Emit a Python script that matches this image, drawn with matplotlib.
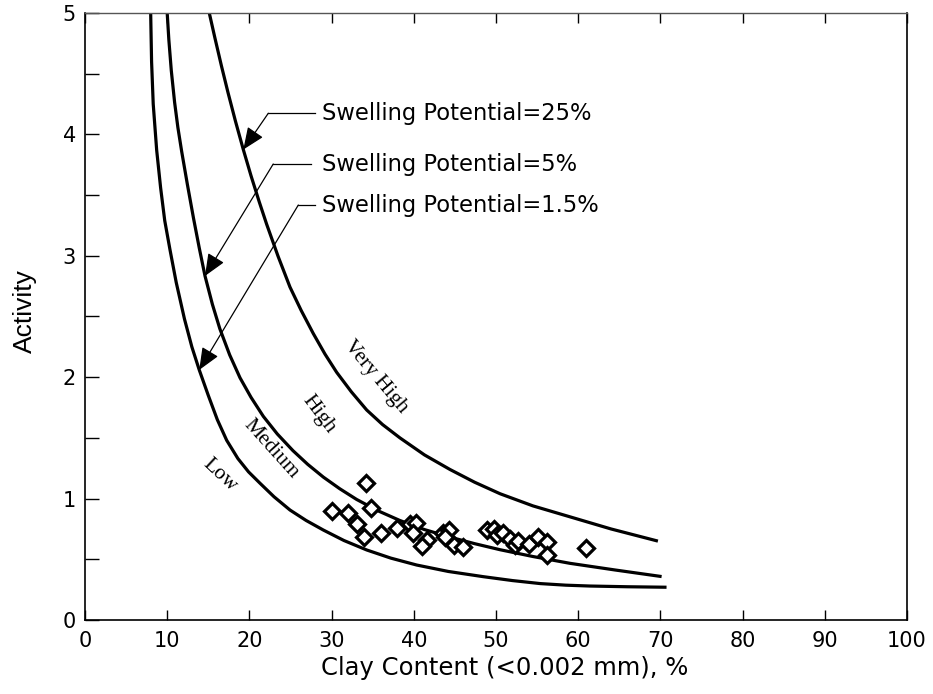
import matplotlib
matplotlib.use("Agg")
import matplotlib.pyplot as plt

# Swelling-potential boundary curves (clay content %, activity)
very_high_x = [15.12, 15.8, 16.6, 17.4, 18.3, 19.26, 20.2, 21.2, 22.1, 23.5, 24.94, 26.3, 27.77,
               29.2, 30.62, 32.4, 34.27, 36.2, 38.32, 41.3, 44.4, 47.4, 50.5, 54.5, 59.0, 64.0, 69.7]
very_high_y = [5.0, 4.796, 4.564, 4.344, 4.11, 3.875, 3.659, 3.444, 3.26, 2.994, 2.742, 2.55, 2.36,
               2.19, 2.04, 1.88, 1.73, 1.61, 1.50, 1.36, 1.24, 1.135, 1.04, 0.94, 0.85, 0.75, 0.65]

medium_x = [10.0, 10.2, 10.5, 10.9, 11.3, 11.76, 12.45, 13.2, 13.9, 14.6, 15.5, 16.4, 17.6, 18.86,
            20.2, 21.7, 23.4, 25.3, 27.1, 29.0, 31.0, 33.05, 35.6, 38.3, 41.3, 44.4, 47.4, 50.5,
            54.5, 59.0, 64.5, 70.15]
medium_y = [5.0, 4.78, 4.525, 4.265, 4.057, 3.86, 3.59, 3.31, 3.065, 2.834, 2.60, 2.40, 2.184, 1.995,
            1.834, 1.677, 1.532, 1.395, 1.282, 1.177, 1.081, 0.993, 0.901, 0.82, 0.745, 0.683, 0.629,
            0.579, 0.523, 0.467, 0.412, 0.358]

low_x = [7.99, 8.1, 8.3, 8.72, 9.2, 9.7, 10.34, 11.1, 12.1, 13.0, 13.9, 15.0, 16.1, 17.24, 18.6,
         19.9, 21.3, 23.0, 24.94, 26.9, 29.0, 31.5, 34.27, 37.2, 40.35, 44.2, 48.46, 52.0, 55.4,
         58.5, 61.4, 66.0, 70.75]
low_y = [5.0, 4.6, 4.25, 3.87, 3.56, 3.29, 3.05, 2.78, 2.48, 2.25, 2.06, 1.85, 1.65, 1.48, 1.33,
         1.22, 1.126, 1.015, 0.906, 0.82, 0.741, 0.655, 0.577, 0.51, 0.453, 0.40, 0.357, 0.325, 0.30,
         0.287, 0.28, 0.274, 0.27]

# Measured soil samples
clay_content = [34.2, 30.0, 32.0, 34.75, 33.05, 34.0, 36.0, 38.0, 39.5, 40.3, 39.95, 41.6, 40.95,
                43.5, 44.3, 43.8, 44.9, 46.0, 48.9, 49.7, 50.1, 50.8, 51.7, 52.3, 52.7, 54.0,
                55.1, 56.2, 56.2, 61.0]
activity = [1.13, 0.90, 0.88, 0.92, 0.79, 0.68, 0.72, 0.76, 0.79, 0.80, 0.72, 0.66, 0.61,
            0.72, 0.74, 0.68, 0.62, 0.60, 0.74, 0.75, 0.70, 0.72, 0.67, 0.62, 0.65, 0.63,
            0.68, 0.64, 0.535, 0.59]

x_ticks = [0, 10, 20, 30, 40, 50, 60, 70, 80, 90, 100]
y_ticks = [0, 1, 2, 3, 4, 5]
y_minor = [0.5, 1.5, 2.5, 3.5, 4.5]

curve_names = ["Swelling Potential=25%", "Swelling Potential=5%", "Swelling Potential=1.5%"]
zone_names = ["Very High", "High", "Medium", "Low"]

fig = plt.figure(figsize=(9.33, 6.94), dpi=100)
ax = fig.add_axes([0.0911, 0.1066, 0.881, 0.8747])

curve_style = dict(color="black", lw=2.3, solid_capstyle="butt", solid_joinstyle="round")
ax.plot(very_high_x, very_high_y, **curve_style)
ax.plot(medium_x, medium_y, **curve_style)
ax.plot(low_x, low_y, **curve_style)

ax.plot(clay_content, activity, linestyle="none", marker="D", markersize=8.3,
        markerfacecolor="white", markeredgecolor="black", markeredgewidth=2.3)

# Leader lines: text anchor, elbow, arrow tip (data coords)
leaders = [
    ((28.0, 4.174), (22.3, 4.174), (19.26, 3.875)),
    ((27.5, 3.756), (22.9, 3.756), (14.6, 2.834)),
    ((28.0, 3.418), (25.95, 3.418), (13.9, 2.06)),
]
for name, (start, elbow, tip) in zip(curve_names, leaders):
    ax.plot([start[0], elbow[0]], [start[1], elbow[1]], color="black", lw=0.9)
    ax.annotate("", xy=tip, xytext=elbow,
                arrowprops=dict(arrowstyle="-|>,head_length=0.85,head_width=0.36",
                                color="black", lw=0.9, mutation_scale=16,
                                shrinkA=0, shrinkB=0))
    ax.text(28.8, start[1], name, fontsize=16.3, family="DejaVu Sans",
            ha="left", va="center")

zone_pos = [(35.4, 2.0, -50), (28.4, 1.69, -53), (22.6, 1.41, -48), (16.4, 1.19, -43)]
for name, (zx, zy, rot) in zip(zone_names, zone_pos):
    ax.text(zx, zy, name, fontsize=15.5, family=["Liberation Serif", "DejaVu Serif"],
            rotation=rot, rotation_mode="anchor", ha="center", va="center")

ax.set_xlim(0, 100)
ax.set_ylim(0, 5)
ax.set_xticks(x_ticks)
ax.set_yticks(y_ticks)
ax.set_yticks(y_minor, minor=True)
ax.tick_params(axis="x", which="both", direction="in", length=7, width=1.0,
               top=True, bottom=True, labelsize=15, pad=8)
ax.tick_params(axis="y", which="both", direction="in", length=10, width=1.0,
               left=True, right=False, labelsize=15, pad=6.5)
for lab in ax.get_xticklabels() + ax.get_yticklabels():
    lab.set_family("DejaVu Sans")

for side in ["left", "bottom", "right"]:
    ax.spines[side].set_linewidth(1.2)
    ax.spines[side].set_color("black")
ax.spines["top"].set_linewidth(1.0)
ax.spines["top"].set_color("#555555")

ax.set_xlabel("Clay Content (<0.002 mm), %", fontsize=17.5, family="DejaVu Sans")
ax.xaxis.set_label_coords(0.51, -0.06)
ax.set_ylabel("Activity", fontsize=19, family=["Liberation Sans Narrow", "Liberation Sans"])
ax.yaxis.set_label_coords(-0.058, 0.509)

fig.savefig("out.png", dpi=100)
